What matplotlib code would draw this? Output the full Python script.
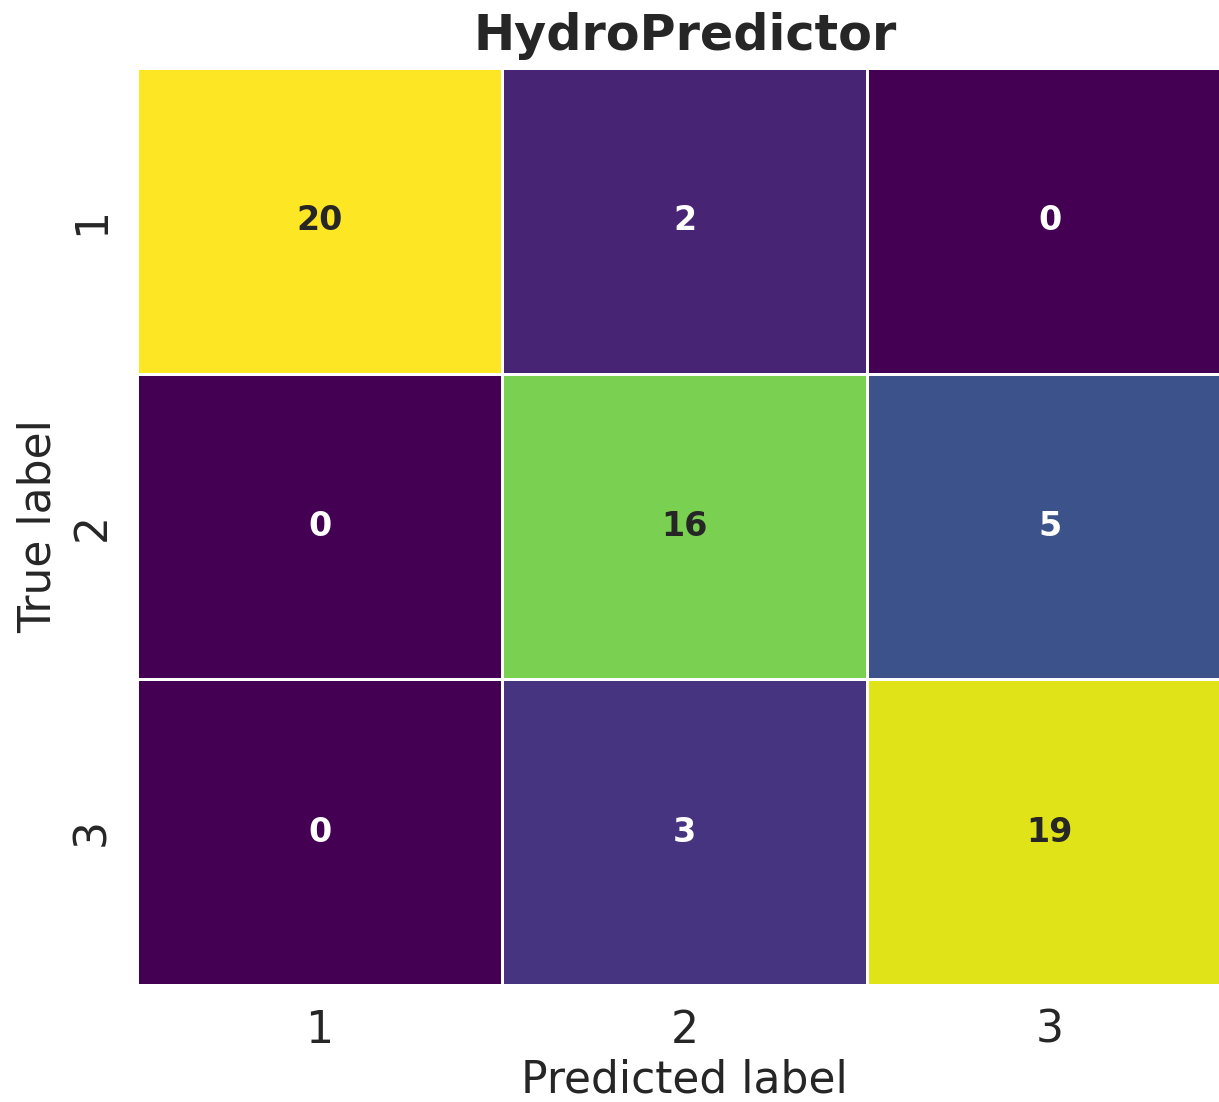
import numpy as np
import matplotlib
matplotlib.use("Agg")
import matplotlib.pyplot as plt
import seaborn as sns

# confusion matrix values
labels = ["1", "2", "3"]
cm = np.array([[20, 2, 0],
               [0, 16, 5],
               [0, 3, 19]])

sns.set_theme(style="white")
plt.rcParams['font.family'] = ['DejaVu Sans']

fig = plt.figure(figsize=(12.19, 11.02), dpi=100)
ax = fig.add_axes([0.1124, 0.1062, 0.8985, 0.832])
sns.heatmap(cm, annot=True, fmt="d", cmap="viridis", vmin=0, vmax=20,
            cbar=False, linewidths=2, linecolor="white",
            xticklabels=labels, yticklabels=labels,
            annot_kws={"fontsize": 24, "fontweight": "bold"}, ax=ax)
ax.set_title("HydroPredictor", fontsize=35.5, fontweight="bold", pad=13)
ax.set_xlabel("Predicted label", fontsize=31.7, labelpad=5)
ax.set_ylabel("True label", fontsize=31.7, labelpad=8)
ax.tick_params(axis="both", labelsize=31.7, length=0, pad=17)
plt.setp(ax.get_yticklabels(), rotation=90, va="center")
fig.savefig("out.png", dpi=100)
